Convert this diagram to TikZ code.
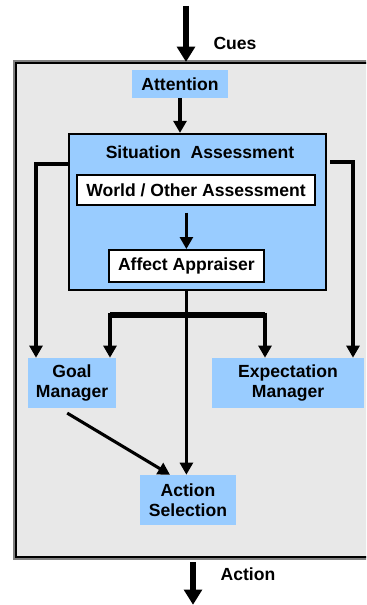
\documentclass[tikz,border=0pt]{standalone}
\usepackage{fontspec}
\setmainfont{Liberation Sans}
\usetikzlibrary{arrows.meta,positioning,calc}
\definecolor{moduleBlue}{HTML}{99CCFF}
\definecolor{agentGray}{HTML}{E8E8E8}

\begin{document}
\begin{tikzpicture}[
            module/.style={rectangle, fill=moduleBlue, align=center, inner sep=0pt, font=\fontsize{12.5}{14.5}\selectfont\bfseries},
            submodule/.style={module, fill=white, draw, line width=1.3pt},
            flow/.style={-{Triangle[length=0.3cm,width=0.32cm]}, line width=2.2pt},
            io/.style={-{Triangle[length=0.38cm,width=0.44cm]}, line width=4.3pt},
            tag/.style={font=\fontsize{12.5}{14.5}\selectfont\bfseries}
        ]
            \useasboundingbox (0,0) rectangle (9.15,-15.125);
            \clip (0,0) rectangle (9.15,-15.125);

            % agent frame
            \node[draw=gray, line width=2.6pt, minimum width=9.05cm, minimum height=12.4cm] at (4.9,-7.75) {};
            \node[draw, fill=agentGray, line width=1.5pt, minimum width=9cm, minimum height=12.35cm] (agent) at (4.9,-7.75) {};

            \node[module, minimum width=2.4cm, minimum height=0.7cm] (attn) at (4.5,-2.1) {Attention};
            \node[module, draw, line width=1.5pt, minimum width=6.425cm, minimum height=3.9cm] (sit) at (4.94,-5.3) {};
            \node[tag] (sittitle) at (5.0,-3.8) {Situation~~Assessment};
            \node[submodule, minimum width=5.95cm, minimum height=0.75cm] (world) at (4.9,-4.75) {World / Other Assessment};
            \node[submodule, minimum width=3.875cm, minimum height=0.8cm] (affect) at (4.66,-6.65) {Affect Appraiser};
            \node[module, minimum width=2.2cm, minimum height=1.25cm] (goal) at (1.8,-9.575) {Goal\\Manager};
            \node[module, minimum width=3.8cm, minimum height=1.25cm] (expect) at (7.2,-9.575) {Expectation\\Manager};
            \node[module, minimum width=2.4cm, minimum height=1.25cm] (select) at (4.7,-12.5) {Action\\Selection};

            % inputs and outputs
            \coordinate (cuesin) at (4.65,-0.15);
            \coordinate (actout) at (4.825,-15.12);
            \draw[io] (cuesin) -- (cuesin |- agent.north);
            \draw[io] ([yshift=-0.1cm]agent.south -| actout) -- (actout);
            \node[tag] (cues) at (5.875,-1.075) {Cues};
            \node[tag] (act) at (6.2,-14.35) {Action};

            \draw[flow] (attn) -- (attn |- sit.north);
            \draw[flow] ([yshift=-0.17cm]world.south -| affect) -- (affect);

            % side branches
            \coordinate (lsplit) at (0.9,-4.1);
            \coordinate (rsplit) at (8.825,-4.05);
            \draw[flow] (sit.west |- lsplit) -- (lsplit) -- (lsplit |- goal.north);
            \draw[flow] ([xshift=0.08cm]sit.east |- rsplit) -- (rsplit) -- (rsplit |- expect.north);

            % fork under the assessment
            \coordinate (bl) at (2.75,-7.875);
            \coordinate (br) at (6.625,-7.875);
            \draw[line width=3.6pt] (bl) -- (br);
            \draw[flow] ([yshift=0.06cm]bl) -- (bl |- goal.north);
            \draw[flow] ([yshift=0.06cm]br) -- (br |- expect.north);
            \draw[flow] (affect |- sit.south) -- (affect |- select.north);
            \draw[flow] ([xshift=-0.12cm,yshift=-0.12cm]goal.south) -- ([xshift=-0.45cm]select.north);
\end{tikzpicture}
\end{document}
